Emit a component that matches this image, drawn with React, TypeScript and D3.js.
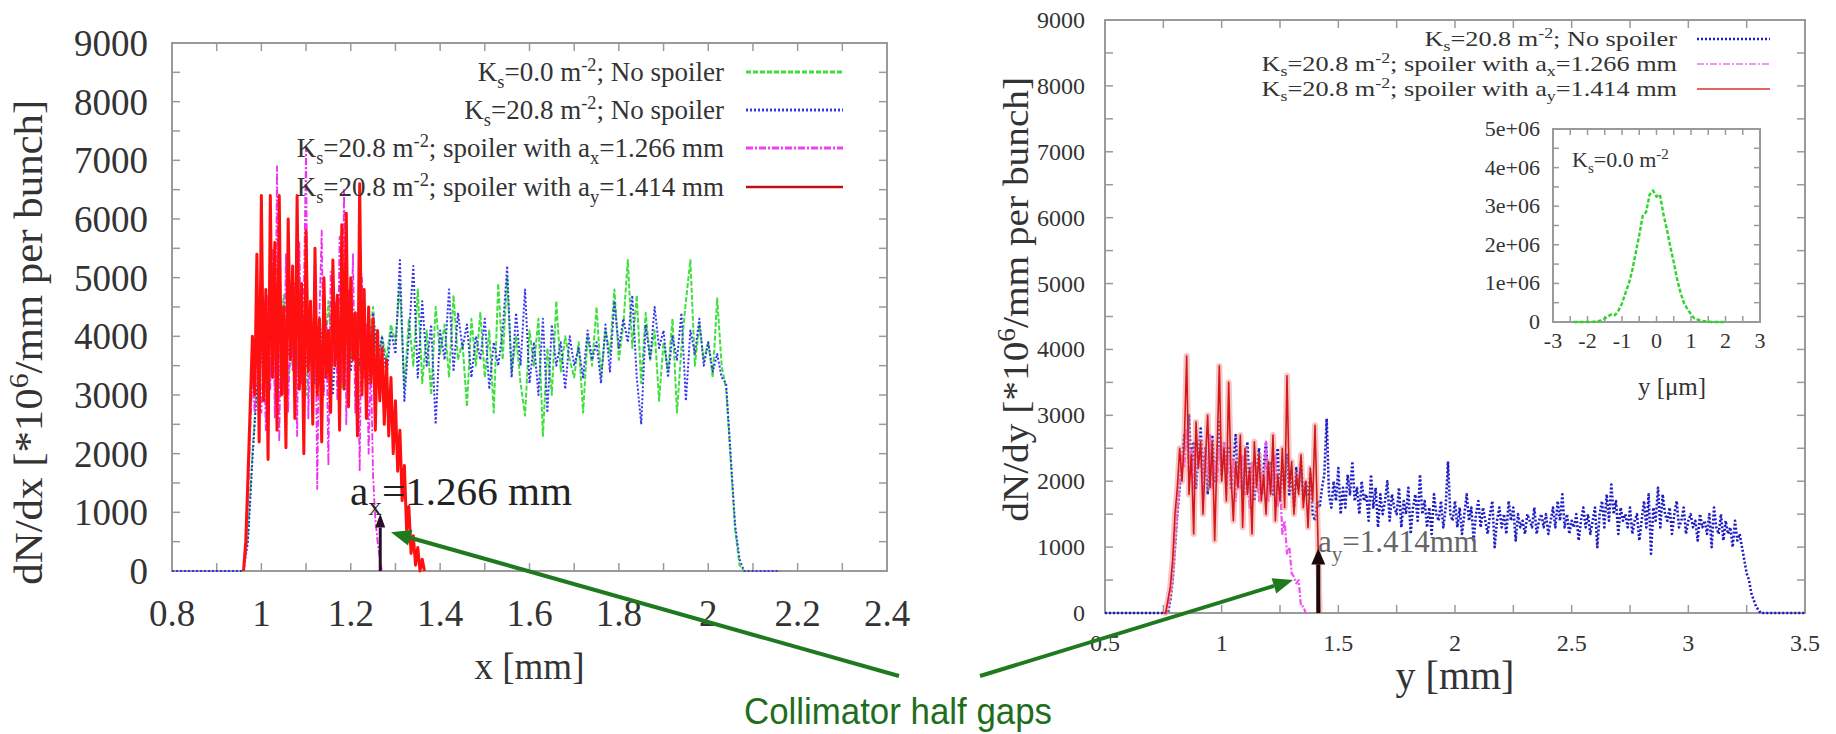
import React from 'react';
import * as d3 from 'd3';

// ---------- tick labels ----------
const LEFT_X_TICKS = [0.8, 1, 1.2, 1.4, 1.6, 1.8, 2, 2.2, 2.4];
const LEFT_X_LABELS = ['0.8', '1', '1.2', '1.4', '1.6', '1.8', '2', '2.2', '2.4'];
const Y_TICKS = [0, 1000, 2000, 3000, 4000, 5000, 6000, 7000, 8000, 9000];
const Y_LABELS = ['0', '1000', '2000', '3000', '4000', '5000', '6000', '7000', '8000', '9000'];
const RIGHT_X_TICKS = [0.5, 1, 1.5, 2, 2.5, 3, 3.5];
const RIGHT_X_LABELS = ['0.5', '1', '1.5', '2', '2.5', '3', '3.5'];
const INSET_X_TICKS = [-3, -2, -1, 0, 1, 2, 3];
const INSET_X_LABELS = ['-3', '-2', '-1', '0', '1', '2', '3'];
const INSET_Y_TICKS = [0, 1e6, 2e6, 3e6, 4e6, 5e6];
const INSET_Y_LABELS = ['0', '1e+06', '2e+06', '3e+06', '4e+06', '5e+06'];

// ---------- series (histogram bins) ----------
const LEFT_GREEN_START = 0.95;
const LEFT_BIN = 0.01;
const leftGreen = [0, 0, 600, 2000, 3200,
  3800, 4400, 3300, 4100, 3600, 4700, 3200, 4000, 3500, 4300,
  3000, 4500, 3700, 3900, 3300, 4600, 3500, 4200, 3100, 4000,
  3600, 4400, 3400, 4100, 3800, 4500, 3300, 4000, 3600, 4200,
  3900, 4900, 3100, 4300, 3500, 4800, 3200, 4100, 3000, 4500,
  3700, 4200, 3300, 4700, 3600, 3900, 2800, 4300, 3500, 4400,
  3300, 4100, 2700, 4900, 3600, 5000, 3400, 4000, 3200, 2650,
  4100, 3500, 4300, 2300, 3800, 3000, 4600, 3400, 4000, 3600,
  3300, 3900, 2700, 4000, 3500, 4500, 3300, 4100, 3700, 4800,
  3600, 4200, 5300, 3800, 4700, 3200, 4400, 3600, 4100, 2900,
  3900, 3400, 4300, 2700, 3800, 4600, 5300, 3500, 4200, 3600,
  3900, 3300, 4650, 3500,
  3100, 1900, 700, 100, 0, 0];

const LEFT_BLUE_START = 0.8;
const leftBlue = [0, 0, 0, 0, 0, 0, 0, 0, 0, 0, 0, 0, 0, 0, 0, 0, 0, 500, 1900, 3100,
  3600, 4200, 3400, 3900, 3100, 4400, 3700, 4100, 3300, 4600,
  3500, 4000, 3200, 4300, 3600, 3900, 3000, 4500, 3700, 4100,
  3400, 4200, 3500, 3900, 3200, 4400, 3600, 4000, 3300, 4100,
  3700, 5300, 2900, 4000, 5200, 3300, 4600, 3500, 4200, 2500,
  4100, 3600, 4800, 3400, 4400, 3800, 4200, 3300, 4000, 3600,
  4300, 3100, 3900, 3500, 4100, 5200, 3300, 4400, 3500, 4800,
  3200, 3900, 3000, 4300, 2700, 4200, 3500, 3900, 3100, 4000,
  3500, 3800, 3300, 4100, 3600, 3900, 3200, 4200, 3400, 4600,
  3800, 4300, 3900, 4700, 3300, 2500, 4200, 3600, 4500, 3800,
  4100, 3300, 4000, 3600, 4400, 2900, 4100, 3700, 4300, 3500,
  3900, 3400, 3700, 3300,
  3200, 2000, 800, 200,
  0, 0, 0, 0, 0, 0, 0, 0, 0];

const LEFT_SPOILER_START = 0.96;
const LEFT_SPOILER_BIN = 0.005;
const leftMagenta = [0, 300, 1200, 2400, 3300, 2700, 4100, 3000,
  2700, 3900, 2400, 4700, 3100, 5500, 2600, 6900, 2200, 4600,
  3000, 5400, 2700, 4300, 3400, 4900, 2300, 5600, 3200, 4700,
  7200, 2600, 4200, 3500, 5200, 1400, 4400, 5800, 3000, 4300,
  1800, 5100, 3500, 4600, 2900, 5700, 3200, 6500, 2500, 4800,
  3700, 5400, 2700, 4400, 1700, 5000, 3300, 4200, 2000, 3600,
  1600, 900, 500, 200, 0];
const leftRed = [0, 500, 1600, 2800, 4000, 3000, 5400, 2200,
  6400, 2900, 4800, 1900, 6400, 3300, 5600, 2400, 6400, 3000,
  4500, 2100, 6000, 3600, 5200, 2600, 6400, 3100, 4900, 2000,
  5800, 3400, 4600, 2500, 5500, 3000, 4300, 2200, 5000, 3300,
  4100, 2700, 5300, 3500, 4700, 2400, 5900, 3100, 6100, 2800,
  5000, 3600, 4400, 2300, 6600, 3000, 4800, 2600, 4500, 3200,
  4300, 2400, 4100, 2900, 3800, 2500, 3600, 2300, 3300, 2000,
  2900, 1700, 2400, 1200, 1800, 700, 1100, 300, 600, 100,
  400, 0, 200, 0];

const RIGHT_BLUE_START = 0.5;
const RIGHT_BIN = 0.01;
const rightBlue = [0, 0, 0, 0, 0, 0, 0, 0, 0, 0, 0, 0, 0, 0, 0, 0, 0, 0, 0, 0, 0, 0, 0, 0, 0, 0, 0, 0,
  200, 500, 1000, 1500, 1900, 2300, 2700, 2500, 3000, 2200,
  2600, 1900, 2400, 2800, 2100, 2500, 1800, 2300, 2700, 2000,
  2400, 2900, 2100, 2600, 2200, 2500, 1900, 2300, 2700, 2000,
  2400, 1800, 2200, 2600, 1900, 2300, 1700, 2100, 2500, 1800,
  2200, 2600, 1900, 2300, 1800, 2100, 2500, 1700, 2200, 1900,
  2400, 1800, 2100, 1600, 2200, 1900, 2300, 1700, 2000, 1800,
  2100, 1500, 1400, 1700, 1600, 1900, 2100, 2950, 1800, 1600,
  2000, 1700, 2200, 1500, 1900, 1600, 2100, 1800, 2300, 1700,
  1900, 1500, 2000, 1700, 1800, 1400, 2100, 1600, 1900, 1300,
  1800, 1500, 1700, 2000, 1400, 1800, 1600, 1500, 1900, 1300,
  1700, 1500, 1900, 1200, 1600, 1800, 1400, 2100, 1500, 1700,
  1300, 1600, 1200, 1800, 1500, 1400, 1700, 1300, 1600, 2300,
  1500, 1400, 1700, 1300, 1600, 1200, 1500, 1800, 1400, 1600,
  1100, 1500, 1700, 1300, 1600, 1400, 1200, 1500, 1700, 1000,
  1400, 1600, 1300, 1500, 1200, 1700, 1400, 1600, 1100, 1500,
  1300, 1400, 1200, 1500, 1400, 1300, 1600, 1200, 1400, 1500,
  1300, 1500, 1200, 1400, 1600, 1300, 1700, 1400, 1800, 1300,
  1500, 1200, 1400, 1300, 1500, 1100, 1400, 1600, 1300, 1500,
  1200, 1400, 1600, 1000, 1500, 1700, 1300, 1800, 1400, 1950,
  1500, 1700, 1200, 1600, 1400, 1500, 1300, 1600, 1200, 1400,
  1500, 1100, 1400, 1700, 1300, 1800, 900, 1600, 1400, 1900,
  1300, 1800, 1500, 1400, 1600, 1200, 1500, 1700, 1300, 1400,
  1600, 1200, 1400, 1500, 1300, 1400, 1100, 1500, 1300, 1400,
  1200, 1500, 1000, 1600, 1300, 1200, 1500, 1100, 1400, 1200,
  1300, 1000, 1400, 1100, 1200, 1000, 800, 600, 500, 300,
  200, 100, 50, 0, 0, 0, 0, 0, 0, 0,
  0, 0, 0, 0, 0, 0, 0, 0, 0, 0, 0, 0, 0];

const RIGHT_SPOILER_START = 0.75;
const rightMagenta = [0, 0, 100, 300, 600, 1100, 1500, 2000, 2400, 2200,
  2800, 2100, 2500, 1900, 2600, 2200, 2400, 1800, 2500, 2100,
  2700, 1900, 2300, 2000, 2500, 2200, 2600, 1800, 2400, 2000,
  2300, 1700, 2200, 1900, 2400, 1800, 2100, 1600, 2300, 1900,
  2200, 1700, 2100, 1800, 2600, 1700, 2200, 1900, 2400, 1600,
  2000, 1200, 1400, 900, 1000, 600, 550, 450, 500, 100,
  100, 0, 0];
const rightRed = [0, 0, 200, 400, 800, 1500, 1900, 2500, 2000, 2600,
  3900, 1800, 2400, 1200, 2900, 2200, 2600, 1500, 2300, 3000,
  1900, 2600, 1100, 2400, 3750, 2000, 2500, 1700, 3500, 2100,
  1400, 2300, 1900, 2700, 1300, 2500, 1800, 2200, 1200, 2600,
  1900, 2400, 1700, 2100, 1500, 2300, 1800, 2700, 1400, 2100,
  1700, 2500, 1600, 3600, 1900, 2300, 1500, 2100, 1800, 2400,
  1600, 2000, 1300, 2200, 1700, 2850, 1500, 0];

const INSET_START = -2.4;
const INSET_BIN = 0.1;
const insetGreen = [0, 0, 0, 0, 0, 0, 10000, 20000, 40000, 90000,
  150000, 200000, 180000, 300000, 480000, 750000, 1000000, 1350000, 1800000, 2250000,
  2750000, 2850000, 3300000, 3400000, 3250000, 3300000, 2800000, 2400000, 1950000, 1550000,
  1100000, 750000, 480000, 330000, 200000, 90000, 60000, 30000, 20000, 10000,
  0, 0, 0, 0, 0];

const LEFT_LEGEND = [
  { ks: '0.0', text: '; No spoiler', sub: '', after: '' },
  { ks: '20.8', text: '; No spoiler', sub: '', after: '' },
  { ks: '20.8', text: '; spoiler with a', sub: 'x', after: '=1.266 mm' },
  { ks: '20.8', text: '; spoiler with a', sub: 'y', after: '=1.414 mm' },
];
const RIGHT_LEGEND = [LEFT_LEGEND[1], LEFT_LEGEND[2], LEFT_LEGEND[3]];

const SERIF = '"Liberation Serif", "Times New Roman", Times, serif';
const SANS = '"Liberation Sans", Arial, Helvetica, sans-serif';
const TXT = '#333';
const FRAME = '#9a9a9a';

type P = [number, number];
const bins = (start: number, step: number, vals: number[]): P[] =>
  vals.map((v, i) => [start + i * step, v] as P);

function KsText({ item, fs }: { item: typeof LEFT_LEGEND[0]; fs: number }) {
  const s = fs * 0.68;
  return (
    <>
      <tspan>K</tspan>
      <tspan dy={fs * 0.26} fontSize={s}>s</tspan>
      <tspan dy={-fs * 0.26} fontSize={fs}>{'=' + item.ks + ' m'}</tspan>
      <tspan dy={-fs * 0.36} fontSize={s}>-2</tspan>
      <tspan dy={fs * 0.36} fontSize={fs}>{item.text}</tspan>
      {item.sub ? (
        <>
          <tspan dy={fs * 0.26} fontSize={s}>{item.sub}</tspan>
          <tspan dy={-fs * 0.26} fontSize={fs}>{item.after}</tspan>
        </>
      ) : null}
    </>
  );
}

function Frame({ xs, ys, xt, yt, len }: any) {
  const [x0, x1] = xs.range();
  const [y0, y1] = ys.range();
  return (
    <g stroke={FRAME} strokeWidth={1.5} fill="none">
      {xt.map((t: number, i: number) => (
        <g key={'x' + i}>
          <line x1={xs(t)} x2={xs(t)} y1={y0} y2={y0 - len} />
          <line x1={xs(t)} x2={xs(t)} y1={y1} y2={y1 + len} />
        </g>
      ))}
      {yt.map((t: number, i: number) => (
        <g key={'y' + i}>
          <line x1={x0} x2={x0 + len} y1={ys(t)} y2={ys(t)} />
          <line x1={x1} x2={x1 - len} y1={ys(t)} y2={ys(t)} />
        </g>
      ))}
      <rect x={x0} y={y1} width={x1 - x0} height={y0 - y1} strokeWidth={2} />
    </g>
  );
}

function Arrow({ x1, y1, x2, y2, color, w, hl, hw }: any) {
  const a = Math.atan2(y2 - y1, x2 - x1);
  const bx = x2 - hl * Math.cos(a);
  const by = y2 - hl * Math.sin(a);
  const px = -Math.sin(a) * hw;
  const py = Math.cos(a) * hw;
  return (
    <g>
      <line x1={x1} y1={y1} x2={bx} y2={by} stroke={color} strokeWidth={w} />
      <polygon points={`${x2},${y2} ${bx + px},${by + py} ${bx - px},${by - py}`} fill={color} />
    </g>
  );
}

export default function App() {
  // left panel
  const xL = d3.scaleLinear().domain([0.8, 2.4]).range([172, 887]);
  const yL = d3.scaleLinear().domain([0, 9000]).range([571, 43]);
  // right panel
  const xR = d3.scaleLinear().domain([0.5, 3.5]).range([1105, 1805]);
  const yR = d3.scaleLinear().domain([0, 9000]).range([613, 20]);
  // inset
  const xI = d3.scaleLinear().domain([-3, 3]).range([1553, 1760]);
  const yI = d3.scaleLinear().domain([0, 5e6]).range([322, 129]);

  const lineL = d3.line<P>().x((d) => xL(d[0])).y((d) => yL(d[1]));
  const lineR = d3.line<P>().x((d) => xR(d[0])).y((d) => yR(d[1]));
  const lineI = d3.line<P>().x((d) => xI(d[0])).y((d) => yI(d[1]));

  const lGreen = lineL(bins(LEFT_GREEN_START, LEFT_BIN, leftGreen))!;
  const lBlue = lineL(bins(LEFT_BLUE_START, LEFT_BIN, leftBlue))!;
  const lMag = lineL(bins(LEFT_SPOILER_START, LEFT_SPOILER_BIN, leftMagenta))!;
  const lRed = lineL(bins(LEFT_SPOILER_START, LEFT_SPOILER_BIN, leftRed))!;
  const rBlue = lineR(bins(RIGHT_BLUE_START, RIGHT_BIN, rightBlue))!;
  const rMag = lineR(bins(RIGHT_SPOILER_START, RIGHT_BIN, rightMagenta))!;
  const rRed = lineR(bins(RIGHT_SPOILER_START, RIGHT_BIN, rightRed))!;
  const iGreen = lineI(bins(INSET_START, INSET_BIN, insetGreen))!;

  const lMinorX = d3.range(0.8, 2.4001, 0.1);
  const lMinorY = d3.range(0, 9001, 500);
  const rMinorX = d3.range(0.5, 3.5001, 0.25);
  const iMinorX = d3.range(-3, 3.001, 0.5);
  const iMinorY = d3.range(0, 5e6 + 1, 5e5);

  const leftStyles = [
    { stroke: '#3ee03e', dash: '5 2', w: 3 },
    { stroke: '#3a3af0', dash: '2 2', w: 3 },
    { stroke: '#f040f0', dash: '7 2 2 2', w: 3 },
    { stroke: '#c01010', dash: '', w: 2.5 },
  ];
  const rightStyles = [
    { stroke: '#2020c8', dash: '2 2', w: 2.5 },
    { stroke: '#f070f0', dash: '7 2 2 2', w: 1.5 },
    { stroke: '#d83030', dash: '', w: 1.5 },
  ];

  const legL = [72, 110, 148, 187];
  const legR = [39, 64, 89];

  return (
    <svg width={1836} height={734} style={{ position: 'absolute', left: 0, top: 0 }} fontFamily={SERIF}>
      <rect width={1836} height={734} fill="#fff" />

      {/* ================= LEFT PANEL ================= */}
      <Frame xs={xL} ys={yL} xt={lMinorX} yt={lMinorY} len={8} />
      <g fill={TXT} fontSize={37}>
        {Y_TICKS.map((t, i) => (
          <text key={i} x={148} y={yL(t) + 13} textAnchor="end">{Y_LABELS[i]}</text>
        ))}
        {LEFT_X_TICKS.map((t, i) => (
          <text key={i} x={xL(t)} y={626} textAnchor="middle">{LEFT_X_LABELS[i]}</text>
        ))}
        <text x={(xL(0.8) + xL(2.4)) / 2} y={679} textAnchor="middle">x [mm]</text>
        <text transform={`translate(42, ${yL(3900)}) rotate(-90)`} textAnchor="middle" fontSize={39} textLength={485} lengthAdjust="spacingAndGlyphs">
          dN/dx [*10<tspan dy={-14} fontSize={27}>6</tspan><tspan dy={14}>/mm per bunch]</tspan>
        </text>
      </g>

      <g fill="none" strokeLinejoin="round">
        <path d={lGreen} stroke="#3ee03e" strokeWidth={2} strokeDasharray="5 2" />
        <path d={lBlue} stroke="#3434ee" strokeWidth={2} strokeDasharray="2 2" />
        <path d={lMag} stroke="#f030f0" strokeWidth={1.8} strokeDasharray="7 2 2 2" />
        <path d={lRed} stroke="#ff1010" strokeWidth={3} />
      </g>

      {/* left legend */}
      {LEFT_LEGEND.map((it, i) => (
        <g key={i}>
          <text x={724} y={legL[i] + 9} textAnchor="end" fontSize={27} fill={TXT}>
            <KsText item={it} fs={27} />
          </text>
          <line x1={746} x2={843} y1={legL[i]} y2={legL[i]} stroke={leftStyles[i].stroke}
            strokeWidth={leftStyles[i].w} strokeDasharray={leftStyles[i].dash} />
        </g>
      ))}

      {/* left collimator arrow */}
      <Arrow x1={xL(1.266)} y1={yL(0)} x2={xL(1.266)} y2={yL(980)} color="#2a0f2a" w={3} hl={14} hw={5} />
      <text x={350} y={505} fontSize={39} fill="#222" textLength={222} lengthAdjust="spacingAndGlyphs">
        a<tspan dy={10} fontSize={26}>x</tspan><tspan dy={-10}>=1.266 mm</tspan>
      </text>

      {/* ================= RIGHT PANEL ================= */}
      <Frame xs={xR} ys={yR} xt={rMinorX} yt={lMinorY} len={8} />
      <g fill={TXT} fontSize={24}>
        {Y_TICKS.map((t, i) => (
          <text key={i} x={1085} y={yR(t) + 8} textAnchor="end">{Y_LABELS[i]}</text>
        ))}
        {RIGHT_X_TICKS.map((t, i) => (
          <text key={i} x={xR(t)} y={651} textAnchor="middle">{RIGHT_X_LABELS[i]}</text>
        ))}
        <text x={(xR(0.5) + xR(3.5)) / 2} y={689} textAnchor="middle" fontSize={40}>y [mm]</text>
        <text transform={`translate(1028, ${yR(4760)}) rotate(-90)`} textAnchor="middle" fontSize={36} textLength={445} lengthAdjust="spacingAndGlyphs">
          dN/dy [*10<tspan dy={-13} fontSize={25}>6</tspan><tspan dy={13}>/mm per bunch]</tspan>
        </text>
      </g>

      <g fill="none" strokeLinejoin="round">
        <path d={rBlue} stroke="#1c1cc4" strokeWidth={2.6} strokeDasharray="2 2" />
        <path d={rMag} stroke="#f050f0" strokeWidth={2.2} strokeDasharray="6 2 2 2" />
        <path d={rRed} stroke="#f08f8f" strokeWidth={6} opacity={0.5} />
        <path d={rRed} stroke="#d41818" strokeWidth={1.6} />
      </g>

      {/* right legend */}
      {RIGHT_LEGEND.map((it, i) => (
        <g key={i}>
          <g transform={`translate(1677, ${legR[i] + 7}) scale(1.25, 1)`}>
            <text x={0} y={0} textAnchor="end" fontSize={21} fill={TXT}>
              <KsText item={it} fs={21} />
            </text>
          </g>
          <line x1={1697} x2={1770} y1={legR[i]} y2={legR[i]} stroke={rightStyles[i].stroke}
            strokeWidth={rightStyles[i].w} strokeDasharray={rightStyles[i].dash} />
        </g>
      ))}

      {/* right collimator arrow */}
      <Arrow x1={xR(1.414)} y1={yR(0)} x2={xR(1.414)} y2={yR(980)} color="#1a0a0a" w={4} hl={16} hw={7} />
      <text x={1318} y={552} fontSize={31} fill="#666" textLength={160} lengthAdjust="spacingAndGlyphs">
        a<tspan dy={9} fontSize={21}>y</tspan><tspan dy={-9}>=1.414mm</tspan>
      </text>

      {/* ================= INSET ================= */}
      <rect x={1553} y={129} width={207} height={193} fill="#fff" />
      <Frame xs={xI} ys={yI} xt={iMinorX} yt={iMinorY} len={6} />
      <g fill={TXT} fontSize={22}>
        {INSET_Y_TICKS.map((t, i) => (
          <text key={i} x={1540} y={yI(t) + 7} textAnchor="end">{INSET_Y_LABELS[i]}</text>
        ))}
        {INSET_X_TICKS.map((t, i) => (
          <text key={i} x={xI(t)} y={348} textAnchor="middle">{INSET_X_LABELS[i]}</text>
        ))}
        <text x={1672} y={395} textAnchor="middle" fontSize={25}>y [μm]</text>
        <text x={1572} y={167} fontSize={22}>
          K<tspan dy={6} fontSize={15}>s</tspan><tspan dy={-6}>=0.0 m</tspan><tspan dy={-8} fontSize={15}>-2</tspan>
        </text>
      </g>
      <path d={iGreen} fill="none" stroke="#2ed42e" strokeWidth={2.4} strokeDasharray="4 2" />

      {/* ================= ANNOTATION ================= */}
      <Arrow x1={899} y1={676} x2={xL(1.29)} y2={yL(660)} color="#1f7a1f" w={4} hl={20} hw={8} />
      <Arrow x1={980} y1={676} x2={xR(1.306)} y2={yR(500)} color="#1f7a1f" w={4} hl={20} hw={8} />
      <text x={898} y={724} textAnchor="middle" fontFamily={SANS} fontSize={36} fill="#1e6e1e"
        textLength={308} lengthAdjust="spacingAndGlyphs">Collimator half gaps</text>
    </svg>
  );
}
